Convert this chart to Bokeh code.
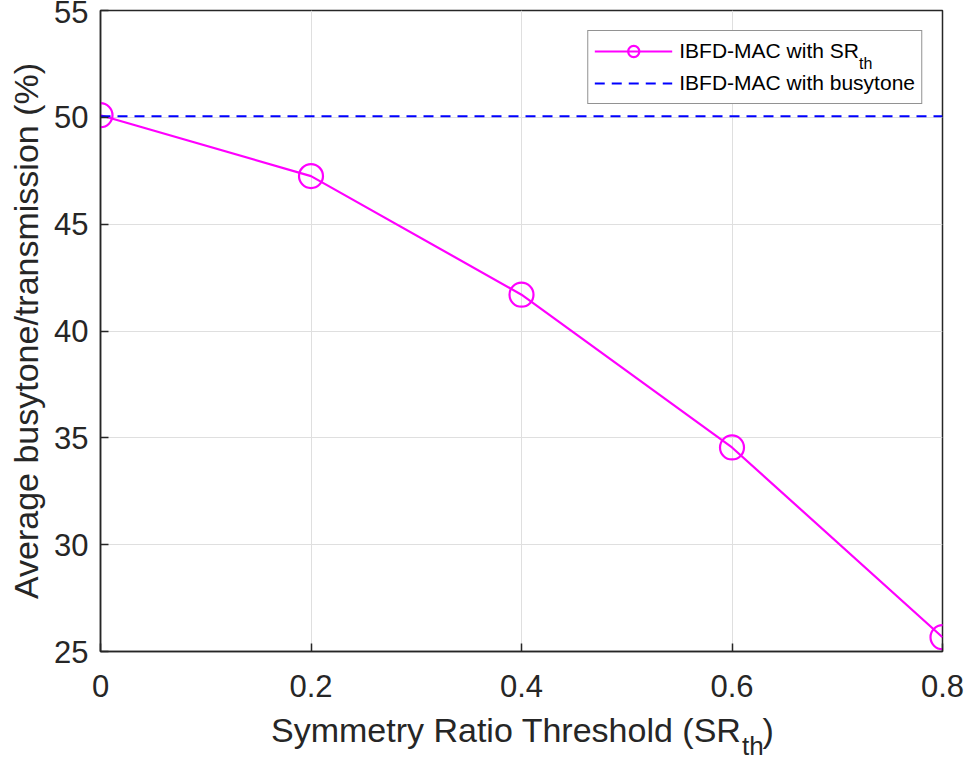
from bokeh.core.properties import value
from bokeh.embed import file_html
from bokeh.models import (ColumnDataSource, FixedTicker, Legend, LegendItem, Range1d)
from bokeh.plotting import figure
from bokeh.resources import INLINE

# Symmetry-ratio threshold values (x) and the average busytone/transmission share (%)
sr_thresholds = [0.0, 0.2, 0.4, 0.6, 0.8]
ibfd_sr_pct = [50.1, 47.25, 41.7, 34.55, 25.67]
ibfd_busytone_pct = [50.05, 50.05, 50.05, 50.05, 50.05]

x_ticks = [0.0, 0.2, 0.4, 0.6, 0.8]
x_tick_labels = ["0", "0.2", "0.4", "0.6", "0.8"]
y_ticks = [25, 30, 35, 40, 45, 50, 55]

FONT = "Liberation Sans"
INK = "#262626"
GRID = "#dfdfdf"

src = ColumnDataSource(dict(x=sr_thresholds, sr=ibfd_sr_pct, busy=ibfd_busytone_pct))

p = figure(width=968, height=761, output_backend="svg", toolbar_location=None,
           x_range=Range1d(0, 0.8), y_range=Range1d(25, 55),
           min_border_left=100, min_border_right=26, min_border_top=10, min_border_bottom=110,
           background_fill_color="white", border_fill_color="white")

p.outline_line_color = INK
p.outline_line_width = 1.5

# gridlines
for g in (p.xgrid, p.ygrid):
    g.grid_line_color = GRID
    g.grid_line_width = 1
p.xgrid.ticker = FixedTicker(ticks=x_ticks)
p.ygrid.ticker = FixedTicker(ticks=y_ticks)


def style_axis(ax, ticks):
    ax.ticker = FixedTicker(ticks=ticks)
    ax.axis_line_color = INK
    ax.axis_line_width = 1.5
    ax.major_tick_line_color = INK
    ax.major_tick_line_width = 1.5
    ax.major_tick_in = 8
    ax.major_tick_out = 0
    ax.minor_tick_line_color = None
    ax.major_label_text_font = FONT
    ax.major_label_text_color = INK
    ax.major_label_text_font_size = "31px"
    ax.axis_label_text_font = FONT
    ax.axis_label_text_font_size = "34px"
    ax.axis_label_text_font_style = "normal"
    ax.axis_label_text_color = INK


xax = p.xaxis[0]
style_axis(xax, x_ticks)
xax.major_label_overrides = dict(zip(x_ticks, x_tick_labels))
xax.major_label_standoff = 23

yax = p.yaxis[0]
style_axis(yax, y_ticks)
yax.major_label_standoff = 12
yax.axis_label = "Average busytone/transmission (%)"
yax.axis_label_standoff = 6

# series
sr_line = p.line("x", "sr", source=src, line_color="#ff00ff", line_width=2.2)
sr_pts = p.scatter("x", "sr", source=src, marker="circle", size=24,
                   fill_color=None, line_color="#ff00ff", line_width=2.2)
busy_line = p.line("x", "busy", source=src, line_color="#0000ff", line_width=2.2,
                   line_dash="10 7")

legend = Legend(items=[
    LegendItem(label="IBFD-MAC with SR", renderers=[sr_line, sr_pts]),
    LegendItem(label="IBFD-MAC with busytone", renderers=[busy_line]),
], location="top_right", margin=20, padding=6, spacing=4,
    glyph_width=78, glyph_height=28, label_standoff=7,
    label_text_font=FONT, label_text_font_size="21px", label_text_color="#000000",
    border_line_color=INK, border_line_width=1,
    background_fill_color="white", background_fill_alpha=1.0)
p.add_layout(legend)

# "th" subscript of the first legend entry: a borderless one-entry legend
# with a zero-width glyph area, laid over the main legend
sub_legend = Legend(items=[LegendItem(label="th", renderers=[busy_line])],
                    location=(759, 578), margin=0, padding=0, spacing=0,
                    glyph_width=0, glyph_height=18, label_height=18, label_width=10,
                    label_standoff=0, label_text_font=FONT, label_text_font_size="16px",
                    label_text_color="#000000", border_line_color=None,
                    background_fill_alpha=0.0)
p.add_layout(sub_legend)

# x-axis title "Symmetry Ratio Threshold (SR_th)", drawn as three text pieces
title_kw = dict(text_font=value(FONT), text_color=INK, text_baseline="alphabetic",
                level="overlay")
p.text(x=[0.6090], y=[21.31], text=["Symmetry Ratio Threshold (SR"],
       text_font_size="34px", text_align="right", **title_kw)
p.text(x=[0.6095], y=[20.56], text=["th"], text_font_size="26px", text_align="left",
       **title_kw)
p.text(x=[0.6290], y=[21.31], text=[")"], text_font_size="34px", text_align="left",
       **title_kw)

open("out.html", "w").write(file_html(p, INLINE))
